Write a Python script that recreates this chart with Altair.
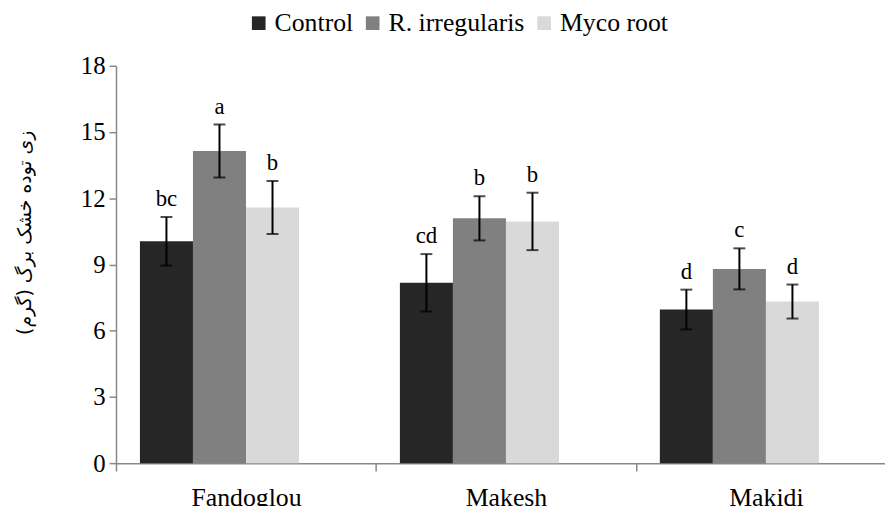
import altair as alt
import pandas as pd

genotypes = ["Fandoglou", "Makesh", "Makidi"]
treatments = ["Control", "R. irregularis", "Myco root"]
colors = ["#262626", "#808080", "#d9d9d9"]

control = [10.05, 8.17, 6.96]
irreg = [14.14, 11.09, 8.80]
myco = [11.58, 10.95, 7.32]

control_err = [1.10, 1.30, 0.90]
irreg_err = [1.20, 1.00, 0.93]
myco_err = [1.20, 1.30, 0.77]

control_letters = ["bc", "cd", "d"]
irreg_letters = ["a", "b", "c"]
myco_letters = ["b", "b", "d"]

y_ticks = [0, 3, 6, 9, 12, 15, 18]
y_title = "زی توده خشک برگ (گرم)"

SERIF = "'Times New Roman', 'Liberation Serif', 'DejaVu Serif', serif"

rows = []
for t, vals, errs, lets in [
    (treatments[0], control, control_err, control_letters),
    (treatments[1], irreg, irreg_err, irreg_letters),
    (treatments[2], myco, myco_err, myco_letters),
]:
    for g, v, e, l in zip(genotypes, vals, errs, lets):
        rows.append({"genotype": g, "treatment": t, "value": v,
                     "lo": v - e, "hi": v + e, "letter": l})
df = pd.DataFrame(rows)

x_enc = alt.X(
    "genotype:N",
    scale=alt.Scale(domain=genotypes, paddingInner=0.184, paddingOuter=0.092,
                    rangeMin=0, rangeMax=787),
    axis=alt.Axis(
        title=None, labelAngle=0, bandPosition=0, tickOffset=-24, labelOffset=24,
        labelFont=SERIF, labelFontSize=26, labelColor="black",
        labelPadding=14, tickSize=8, tickColor="#888888", domainColor="#888888",
        domainWidth=1.5, tickWidth=1.5,
    ),
)
xoff = alt.XOffset(
    "treatment:N",
    scale=alt.Scale(domain=treatments + [" "], paddingInner=0, paddingOuter=0),
)
y_scale = alt.Scale(domain=[0, 18], nice=False, zero=True)

base = alt.Chart(df)

bars = base.mark_bar().encode(
    x=x_enc,
    xOffset=xoff,
    y=alt.Y(
        "value:Q", scale=y_scale,
        axis=alt.Axis(
            values=y_ticks, grid=False, title=y_title,
            titleFont="DejaVu Sans", titleFontSize=19, titleFontWeight="normal",
            titleColor="black", titleAngle=-90, titleX=-92, titleY=168,
            titleAlign="center", titleBaseline="middle",
            labelFont=SERIF, labelFontSize=25, labelColor="black",
            labelPadding=4, tickSize=7, tickColor="#888888", domainColor="#888888",
            domainWidth=1.5, tickWidth=1.5,
        ),
    ),
    color=alt.Color(
        "treatment:N",
        scale=alt.Scale(domain=treatments, range=colors),
        legend=alt.Legend(
            title=None, orient="none", direction="horizontal",
            legendX=131, legendY=-56, symbolType="square", symbolSize=190,
            symbolStrokeWidth=0, labelFont=SERIF, labelFontSize=26,
            labelColor="black", labelOffset=3, columnPadding=6, padding=0,
        ),
    ),
)

rules = base.mark_rule(color="black", strokeWidth=2).encode(
    x=alt.X("genotype:N"), xOffset=xoff,
    y=alt.Y("lo:Q"), y2="hi:Q",
)
cap_lo = base.mark_tick(color="black", thickness=2, size=12, orient="horizontal").encode(
    x=alt.X("genotype:N"), xOffset=xoff, y=alt.Y("lo:Q"),
)
cap_hi = base.mark_tick(color="black", thickness=2, size=12, orient="horizontal").encode(
    x=alt.X("genotype:N"), xOffset=xoff, y=alt.Y("hi:Q"),
)
letters = base.mark_text(
    font=SERIF, fontSize=23, color="black", baseline="alphabetic", dy=-11,
).encode(
    x=alt.X("genotype:N"), xOffset=xoff, y=alt.Y("hi:Q"), text="letter:N",
)

chart = (
    alt.layer(bars, rules, cap_lo, cap_hi, letters)
    .properties(
        width=776, height=401,
        autosize=alt.AutoSizeParams(type="none"),
        padding={"left": 109, "top": 56, "right": 0, "bottom": 48},
    )
    .configure_view(stroke=None)
)

chart.save("out.html", embed_options={"renderer": "svg", "actions": False})
